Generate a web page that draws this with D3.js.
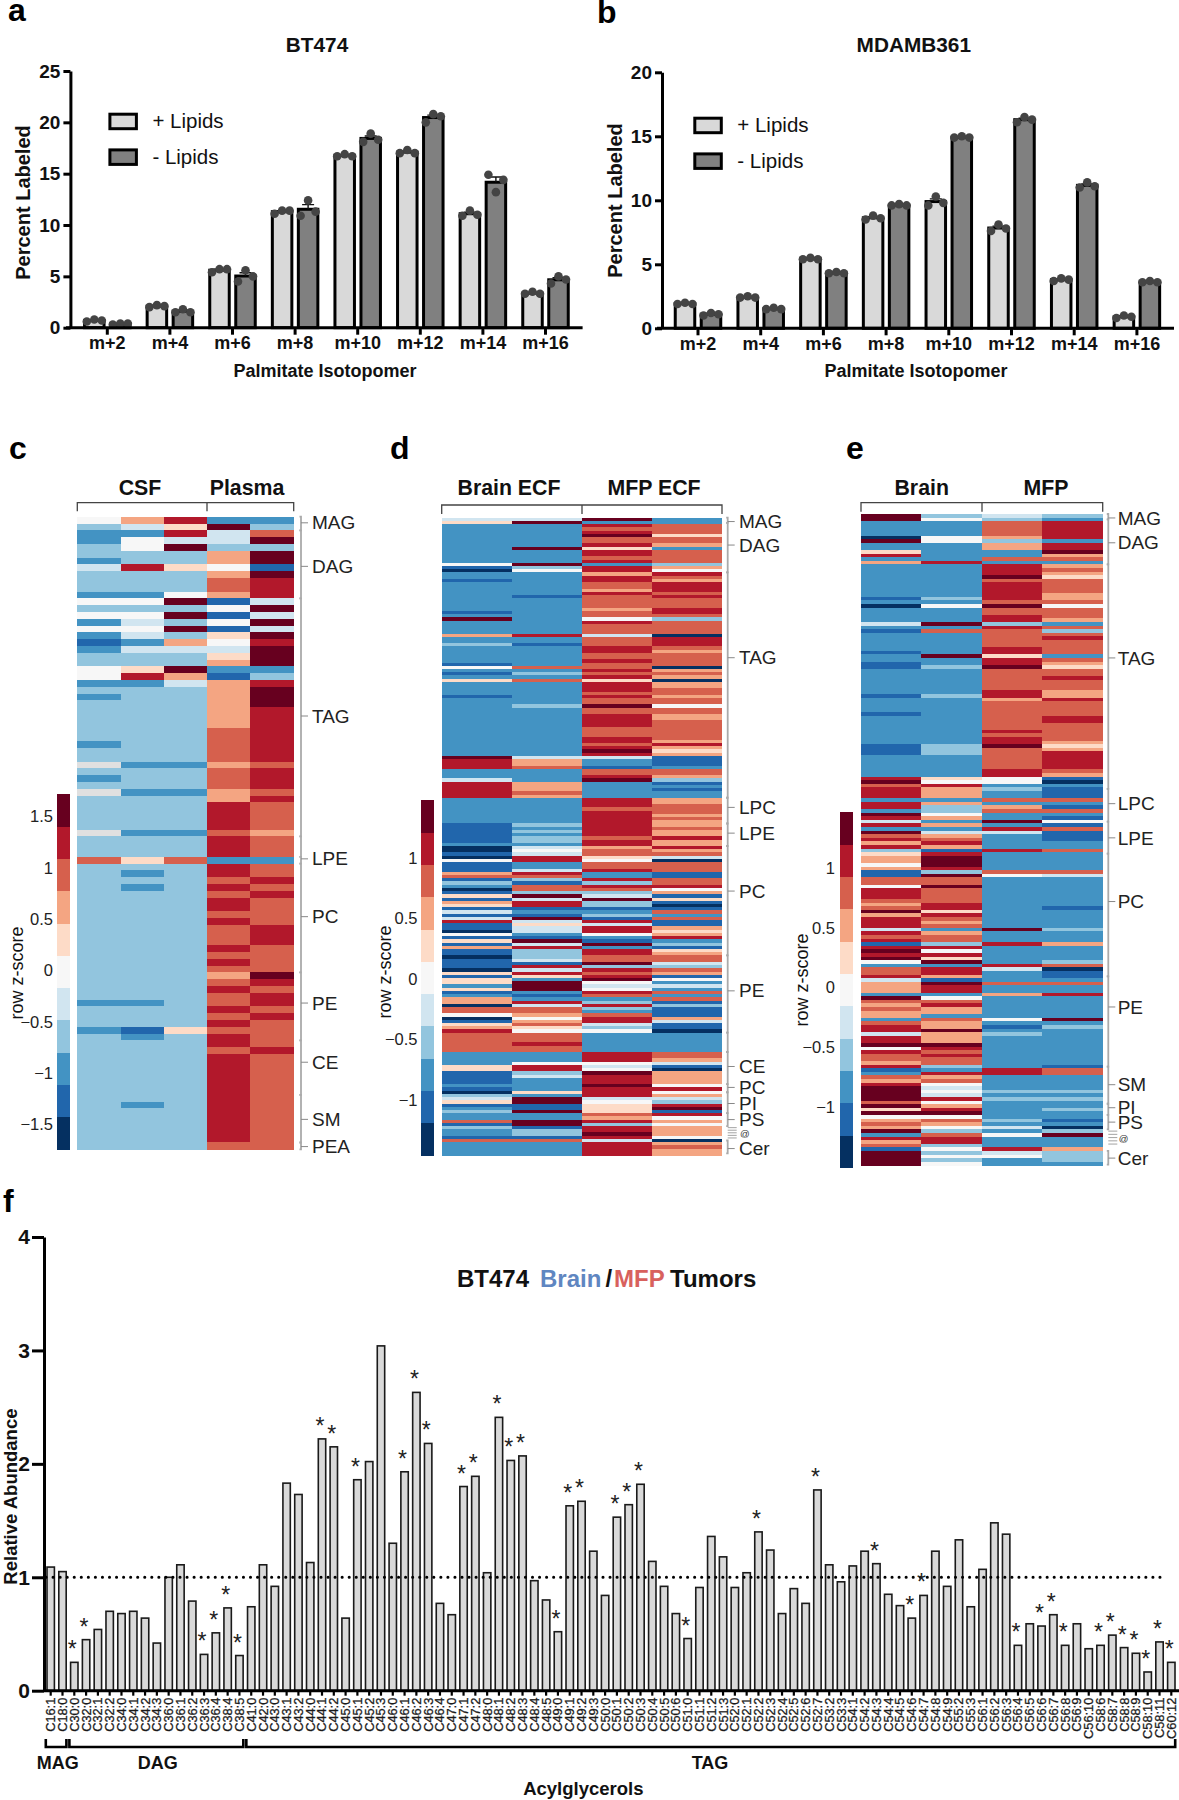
<!DOCTYPE html>
<html>
<head>
<meta charset="utf-8">
<script src="https://cdn.jsdelivr.net/npm/d3@7"></script>
<style>
  body { margin: 0; background: #fff; }
  svg { display: block; }
  text { font-family: "Liberation Sans", Arial, sans-serif; fill: #111; }
</style>
</head>
<body>
<script>
"use strict";

// Panels a, b
var isotopomers = ["m+2", "m+4", "m+6", "m+8", "m+10", "m+12", "m+14", "m+16"];
var plusA = [[0.6, 0.8, 0.7], [2.0, 2.2, 2.1], [5.4, 5.7, 5.7], [11.1, 11.4, 11.4], [16.7, 16.9, 16.7], [17.0, 17.3, 17.0], [10.9, 11.4, 11.0], [3.3, 3.5, 3.3]];
var minusA = [[0.3, 0.4, 0.4], [1.5, 1.8, 1.5], [4.5, 5.6, 5.0], [10.9, 12.4, 11.3], [18.1, 18.9, 18.3], [20.0, 20.8, 20.6], [14.9, 13.2, 14.4], [4.3, 5.0, 4.7]];
var plusB = [[1.9, 2.0, 1.9], [2.4, 2.5, 2.4], [5.4, 5.5, 5.4], [8.5, 8.8, 8.6], [9.6, 10.3, 9.8], [7.6, 8.1, 7.8], [3.7, 3.9, 3.8], [0.8, 1.0, 0.9]];
var minusB = [[1.0, 1.2, 1.1], [1.5, 1.6, 1.5], [4.3, 4.4, 4.3], [9.6, 9.7, 9.6], [14.9, 15.0, 14.9], [16.1, 16.5, 16.3], [11.0, 11.4, 11.1], [3.6, 3.7, 3.6]];
var ticksA = [0, 5, 10, 15, 20, 25];
var ticksB = [0, 5, 10, 15, 20];

// Heatmaps: z-score level 0 (most negative) to a (most positive), g is the grey cell in panel c
var zLevels = ["0", "1", "2", "3", "4", "5", "6", "7", "8", "9", "a"];
var zColors = ["#053061", "#2166ac", "#4393c3", "#92c5de", "#d1e5f0", "#f7f7f7", "#fddbc7", "#f4a582", "#d6604d", "#b2182b", "#67001f"];

// Panel c, one string per row, one character per sample
var rowsC = ["57922", "346a3", "22948", "2544a", "35a33", "3337a", "2337a", "49651", "3337a", "33389", "33389", "22579",
  "55a14", "3335a", "55a14", "2435a", "55a14", "2436a", "12759", "2444a", "3336a", "3337a", "56a22", "59713", "22479",
  "3337a", "2337a", "3337a", "33379", "33379", "33379", "33389", "33389", "23389", "33389", "33389", "g2278", "33389",
  "23389", "33389", "g2278", "33379", "33398", "33398", "33398", "33398", "g2287", "33398", "33398", "33398", "86822",
  "33398", "32398", "33389", "32398", "33389", "33398", "33398", "33388", "33398", "33389", "33389", "33389", "33398",
  "33388", "33398", "33388", "3337a", "33389", "33398", "33389", "22389", "33398", "33389", "33398", "21688", "32398",
  "33398", "33389", "33398", "33398", "33398", "33398", "33398", "33398", "33398", "32398", "33398", "33398", "33398",
  "33398", "33398", "33388"];

// Panels d, e, one string per sample, runs written as level*count from the top row down
var brainEcf1 = "4 6 2*12 5 1 0 2*2 1 2*9 1 2 a 2*4 7 2*2 3 2*5 1 5 2 1 2 6 2*4 1 2*18 a 9*3 2*3 4 9*5 " +
  "2*8 1*6 2 0*2 1 0 5 1*3 7 8 1 3 2 0 1 6 1 7 6 1 4 1 4 9 1 1 0 5 1 6 1 7 1 1 0 1*3 0 6 1 6*2 2 6 1 2 7*2 0 8*2 5 0 1 6 7 9 8*6 2*4 6*2 1*4 2 1 0 3 4 6 1 2 3 2*2 8 1 3 2*2 1 8 2*4";
var brainEcf2 = "4 a 2*7 a 2*4 a 3 5 2*7 1 2*11 9 2*2 1 2*6 8 2 3 2 8 2*7 3 2*15 4 7*2 8 2*4 7*3 8 7 " +
  "2*8 3 2 3 2 3*2 2 4 5 4 9*2 2*2 4 9 8 3 1 8*2 3 a 4 9*2 1 2 1 a 4 6 4*2 2 1 a 4 9 3*3 4 1 9 4 9 6 2 a*3 2 1 2 9 4 8*2 7 5 7 8 6 5 8*3 9 8*2 2*3 5 9*2 3 4 2*4 6 2 a*2 1*2 a 2*2 a*2 1 3*2 1 8 2*4";
var mfpEcf1 = "a 2 9 8 9 a 8*2 9 6 9*2 8 9 2 9*2 7 9*2 8*2 7 9 8*4 7 8*2 5 9 8*3 4 8*3 9*2 8*2 9 8*2 9 8 9 6 9*3 8 9 8*2 a 8*2 9*4 8*3 9*2 8 9 a 9 4 2*2 1 8*2 9 a 2*5 " +
  "9*3 8 9*8 8 9*2 7 8*2 6 5 8*2 9 2*2 9 3 9 8 3 4 a 3*2 1 2 3 1 9 4 9*2 5 2 1 a 2 9*2 8*2 a 3 9 8 9 a 5 4 5 9 8 2 3 9 3 2 8 9*2 4 3 5 2*6 9*3 5 4 5 a 9*3 a 9*3 4 5 6*3 8 7 9 3 9*2 a 9 4 9*4";
var mfpEcf2 = "2*2 8*3 6 8*2 7 2 8*4 3 7 5 9 8 7 9*3 8 9 8*3 9*2 8 3 8*4 0 9*3 8 7 8*4 0 7 8 7 0 7*2 8*2 7 8*2 5 8*2 7*2 8*6 7 9 7 6 7 1*3 2 8*2 7 3 1 2 1 2*2 " +
  "7*2 8*3 7 8 7*2 8 7*2 9 7*2 9 7 8 4 0 8*3 1*2 8*2 9 5 7 1 6 1 0 1 8 2 8 1*2 7 6 7 9 2 3 1 6 7 8*2 4 3 8 7 1 5 2 4 2 8 2 8 1 3 1*3 7 4 1*2 0 2*6 8*2 7 4 1 0 7*4 5 9 5 7 4 3 9 a 1 9 5 7 5 7*3 5 0 7 8 7*2";
var brain1 = "a*2 2*4 0 a 2*2 6 9 2 7 2*9 1 2 0 2*4 4 2 1 2*5 1 2*2 1*2 2*7 1 2*4 1 2*8 1*3 2*6 9 a 8 9*3 2 9*2 " +
  "2 a 9 4 9 2 a 8 9 7 9 3 6 7*2 5 7 1*2 8*2 5 9*3 8 7 8 a 7 9*3 4 9 8 9 1 9 a 9 a 5 2 8*2 9 4 7*3 2 a 8 7 8 7*2 2 8 9*2 4 9*2 a 5 9 8*2 7 9 1 2 8 7 9 a*4 8 a 6 a 5 7 8 7 a 2 9 7 8 1 a*4";
var brain2 = "3 5 2*4 5*2 2*5 9 2*9 3 2 5 2*4 a 2 8 2*6 a 2*2 3 2*7 3 2*13 3*3 2*6 6 5 9 7*3 2 " +
  "7 3*2 5 7 2 7 2 4 7 8 9 7 1 9 a*3 9 3 a 8*2 a 8*4 9*2 6 9 8 7 8 2 7 8*2 3 9 5 9 6 a 2 9*2 7 1 a 9*2 2 5 8 9 7*2 2 8 7*2 a 7*3 a 9 8 9 8*2 3 2 9 7 8 5 4 5 4 9 5 7 9 a 5 8 7 5 3 8 9*2 3 5 3 5 3 5";
var mfp1 = "4 3 8*4 7 3 7*2 2*2 8 2 9*3 a 8 9*5 8 a 8*2 9*2 3 9 8*5 9*2 6 9*2 a 8*6 9*2 7 8*8 9 8 9*2 a 8*6 9*2 5*2 2 3 2*2 8 " +
  "2 7 8 2*2 a 2 9 4 2*4 9 2*5 8 5 2*14 a 2*3 9 2*5 9 4 2*3 8 2*2 7 2*6 5 2 1 2 3 2*9 9*2 2*4 3 2 3 2*5 3 2 4 2 5 2*3 9 4 5 2*2";
var mfp2 = "3 2 9*5 2 9*2 a 7 8 2 7 8 7 6 8*4 7*2 8 5 8*3 7 2 8 3 8 9 8*4 2 8 7 6 8*2 9 8*3 7*2 9 8*4 9*2 8*5 7 6 7 9*5 8 7 1 0 2 1*3 8 " +
  "2 1 8 2 1 5 1 8 1*3 2*2 8 2*5 8 4 2*8 1 2*5 3 2*3 7 2*4 3 8 0 1*2 2 8 2*2 9 2*6 a 2 3 2*10 1 8*2 2*4 3 2 3 2*2 3 2*2 1 2 0 3 a 2*3 7 3*3 2";

// Lipid class labels beside the heatmaps, with the row each one points at
var tagNamesC = ["MAG", "DAG", "TAG", "LPE", "PC", "PE", "CE", "SM", "PEA"];
var tagRowsC = [0.9, 7.3, 29.3, 50.3, 58.8, 71.5, 80.2, 88.6, 92.6];
var tagSpansC = [[0, 2], [2, 12], [12, 47], [47, 50], [50, 51], [51, 67], [67, 77], [77, 85], [85, 92], [92, 93]];
var tagNamesD = ["MAG", "DAG", "TAG", "LPC", "LPE", "PC", "PE", "CE", "PC", "PI", "PS", "Cer"];
var tagRowsD = [1.2, 8.5, 43.5, 90, 98, 116, 147, 170.5, 177, 182, 187, 196];
var tagSpansD = [[0, 1.6], [1.6, 17], [17, 87], [87, 95], [95, 102], [102, 136], [136, 160], [160, 166], [166, 176], [176, 178.5], [178.5, 185], [185, 189], [193.5, 197.5]];
var lipidRowsD = [189.5, 190.3, 191.1, 191.9, 192.7];
var tagNamesE = ["MAG", "DAG", "TAG", "LPC", "LPE", "PC", "PE", "SM", "PI", "PS", "Cer"];
var tagRowsE = [1.1, 8, 40, 80.5, 90, 107.7, 137, 158.6, 165, 169, 179];
var tagSpansE = [[0, 1.5], [1.5, 14], [14, 76.4], [76.4, 85.5], [85.5, 94.4], [94.4, 128.5], [128.5, 153.6], [153.6, 163.9], [163.9, 167], [167, 171], [177, 180.8]];
var lipidRowsE = [171.5, 172.4, 173.3, 174.2, 175.1];

// Panel f
var species = ["C16:1", "C18:0", "C30:0", "C32:0", "C32:1", "C32:2", "C34:0", "C34:1", "C34:2", "C34:3", "C36:0", "C36:1", "C36:2", "C36:3", "C36:4", "C38:4", "C38:5",
  "C41:0", "C42:0", "C43:0", "C43:1", "C43:2", "C44:0", "C44:1", "C44:2", "C45:0", "C45:1", "C45:2", "C45:3", "C46:0", "C46:1", "C46:2", "C46:3", "C46:4", "C47:0", "C47:1", "C47:2",
  "C48:0", "C48:1", "C48:2", "C48:3", "C48:4", "C48:5", "C49:0", "C49:1", "C49:2", "C49:3", "C50:0", "C50:1", "C50:2", "C50:3", "C50:4", "C50:5", "C50:6", "C51:0", "C51:1", "C51:2", "C51:3",
  "C52:0", "C52:1", "C52:2", "C52:3", "C52:4", "C52:5", "C52:6", "C52:7", "C53:2", "C53:3", "C54:1", "C54:2", "C54:3", "C54:4", "C54:5", "C54:6", "C54:7", "C54:8", "C54:9", "C55:2", "C55:3",
  "C56:1", "C56:2", "C56:3", "C56:4", "C56:5", "C56:6", "C56:7", "C56:8", "C56:9", "C56:10", "C58:6", "C58:7", "C58:8", "C58:9", "C58:10", "C58:11", "C60:12"];
var abundance = [1.09, 1.05, 0.25, 0.45, 0.54, 0.70, 0.68, 0.70, 0.64, 0.42, 1.0, 1.11, 0.79, 0.32, 0.51, 0.73, 0.31,
  0.74, 1.11, 0.92, 1.83, 1.73, 1.13, 2.22, 2.15, 0.64, 1.86, 2.02, 3.04, 1.30, 1.93, 2.63, 2.18, 0.77, 0.67, 1.80, 1.89,
  1.04, 2.41, 2.03, 2.07, 0.97, 0.80, 0.52, 1.63, 1.67, 1.23, 0.84, 1.53, 1.64, 1.82, 1.14, 0.92, 0.68, 0.46, 0.91, 1.36, 1.18,
  0.91, 1.04, 1.40, 1.24, 0.68, 0.90, 0.77, 1.77, 1.11, 0.96, 1.10, 1.23, 1.12, 0.85, 0.75, 0.64, 0.84, 1.23, 0.92, 1.33, 0.74,
  1.07, 1.48, 1.38, 0.40, 0.59, 0.57, 0.67, 0.40, 0.59, 0.37, 0.40, 0.49, 0.38, 0.33, 0.165, 0.43, 0.25];
var significant = ["C30:0", "C32:0", "C36:3", "C36:4", "C38:4", "C38:5", "C44:1", "C44:2", "C45:1", "C46:1", "C46:2", "C46:3", "C47:1", "C47:2", "C48:1", "C48:2", "C48:3",
  "C49:0", "C49:1", "C49:2", "C50:1", "C50:2", "C50:3", "C51:0", "C52:2", "C52:7", "C54:3", "C54:6", "C54:7", "C56:4", "C56:6", "C56:7", "C56:8", "C58:6", "C58:7", "C58:8", "C58:9", "C58:10", "C58:11", "C60:12"];

var width = 1179;
var height = 1800;
var lightFill = "#d9d9d9";
var darkFill = "#808080";

var svg = d3.select("body").append("svg").attr("width", width).attr("height", height);

function label(x, y, str, size, weight, anchor, color) {
  return svg.append("text").attr("x", x).attr("y", y).attr("dy", "0.35em")
    .attr("text-anchor", anchor || "middle").attr("font-size", size).attr("font-weight", weight || "normal")
    .style("fill", color || "#111").text(str);
}

function rotated(x, y, str, size, weight) {
  return svg.append("text").attr("transform", "translate(" + x + "," + y + ") rotate(-90)")
    .attr("text-anchor", "middle").attr("dy", "0.35em").attr("font-size", size).attr("font-weight", weight || "normal").text(str);
}

function panelLetter(x, y, str) {
  svg.append("text").attr("x", x).attr("y", y).attr("font-size", 32).attr("font-weight", "bold").style("fill", "#000").text(str);
}

// Define bar panels a and b

function barPanel(p) {
  var x = d3.scaleBand().domain(isotopomers).range([p.tick0 - p.step / 2, p.tick0 + p.step * 7.5]);
  var sub = d3.scaleBand().domain(["plus", "minus"]).range([-26, 26]);
  var y = d3.scaleLinear().domain([0, p.ticks[p.ticks.length - 1]]).range([p.y0, p.yTop]);
  var barW = 19.5;

  [["plus", p.plus, lightFill], ["minus", p.minus, darkFill]].forEach(function (s) {
    var g = svg.append("g");
    s[1].forEach(function (vals, i) {
      var cx = x(isotopomers[i]) + x.bandwidth() / 2 + sub(s[0]) + sub.bandwidth() / 2;
      var m = d3.mean(vals);
      var sem = d3.deviation(vals) / Math.sqrt(vals.length);
      g.append("rect").attr("x", cx - barW / 2).attr("y", y(m)).attr("width", barW).attr("height", y(0) - y(m))
        .attr("fill", s[2]).attr("stroke", "#000").attr("stroke-width", 3);
      // error bar
      g.append("path").attr("d", "M" + (cx - 6) + "," + y(m + sem) + "H" + (cx + 6) + "M" + cx + "," + y(m + sem) + "V" + y(m))
        .attr("fill", "none").attr("stroke", "#111").attr("stroke-width", 1.4);
      g.selectAll(null).data(vals).enter().append("circle")
        .attr("cx", function (d, j) { return cx + (j - 1) * 7.5; })
        .attr("cy", function (d) { return y(d); })
        .attr("r", 4.3).attr("fill", "#444");
    });
  });

  var yAxis = d3.axisLeft(y).tickValues(p.ticks).tickSize(7).tickPadding(3).tickSizeOuter(0);
  var gy = svg.append("g").attr("transform", "translate(" + p.yAxisX + ",0)").call(yAxis);
  gy.selectAll("path,line").attr("stroke", "#000").attr("stroke-width", 3);
  gy.selectAll("text").attr("font-size", 19).attr("font-weight", "bold").style("fill", "#111").attr("font-family", null);

  var xAxis = d3.axisBottom(x).tickSize(7).tickPadding(2).tickSizeOuter(0);
  var gx = svg.append("g").attr("transform", "translate(0," + p.y0 + ")").call(xAxis);
  gx.select(".domain").attr("d", "M" + p.xStart + ",0H" + p.xEnd);
  gx.selectAll("path,line").attr("stroke", "#000").attr("stroke-width", 3);
  gx.selectAll("text").attr("font-size", 18).attr("font-weight", "bold").style("fill", "#111").attr("font-family", null);

  label(p.titleX, 44.7, p.title, 20.8, "bold");
  label(p.xTitleX, 371, "Palmitate Isotopomer", 18, "bold");
  rotated(p.yTitleX, p.yTitleY, "Percent Labeled", 20, "bold");

  [["+ Lipids", lightFill, p.legendY], ["- Lipids", darkFill, p.legendY + 35.7]].forEach(function (l) {
    svg.append("rect").attr("x", p.legendX).attr("y", l[2]).attr("width", 26.5).attr("height", 14.5)
      .attr("fill", l[1]).attr("stroke", "#000").attr("stroke-width", 3);
    label(p.legendX + 42.5, l[2] + 6.5, l[0], 20.5, "normal", "start");
  });
}

barPanel({ title: "BT474", plus: plusA, minus: minusA, ticks: ticksA, tick0: 107.3, step: 62.6, y0: 327.7, yTop: 71, yAxisX: 70.4, xStart: 66, xEnd: 582.6, titleX: 317, xTitleX: 325, yTitleX: 23, yTitleY: 202.5, legendX: 109.9, legendY: 114.2 });
barPanel({ title: "MDAMB361", plus: plusB, minus: minusB, ticks: ticksB, tick0: 698, step: 62.7, y0: 328.3, yTop: 72.3, yAxisX: 662, xStart: 657, xEnd: 1174, titleX: 913.8, xTitleX: 916, yTitleX: 615, yTitleY: 200.5, legendX: 694.8, legendY: 118.2 });

// Define heatmap panels c, d and e

function expandRuns(str) {
  var out = [];
  str.trim().split(/\s+/).forEach(function (t) {
    var p = t.split("*");
    for (var i = 0; i < (+p[1] || 1); i++) out.push(p[0]);
  });
  return out;
}

var zColor = d3.scaleOrdinal().domain(zLevels.concat(["g"])).range(zColors.concat(["#e0e0e0"]));

function heatPanel(p) {
  var nRows = p.columns[0].length;
  var x = d3.scaleBand().domain(d3.range(p.columns.length)).range([p.x0, p.x1]);
  var y = d3.scaleBand().domain(d3.range(nRows)).range([p.y0, p.y1]);
  var rowPos = d3.scaleLinear().domain([0, nRows]).range([p.y0, p.y1]);

  var g = svg.append("g").attr("shape-rendering", "crispEdges");
  p.columns.forEach(function (col, c) {
    g.selectAll(null).data(col).enter().append("rect")
      .attr("x", x(c)).attr("width", x.bandwidth())
      .attr("y", function (d, i) { return y(i); })
      .attr("height", y.bandwidth() + 0.6)
      .attr("fill", function (d) { return zColor(d); });
  });

  // Sample group brackets
  var tickBottom = p.bracketY + p.bracketH;
  svg.append("path").attr("fill", "none").attr("stroke", "#444").attr("stroke-width", 1.3)
    .attr("d", "M" + p.x0 + "," + tickBottom + "V" + p.bracketY + "H" + p.x1 + "V" + tickBottom + "M" + p.xMid + "," + p.bracketY + "V" + tickBottom);
  p.groups.forEach(function (gr) { label(gr[1], p.groupY, gr[0], 21.3, "bold"); });

  // Colour key
  var key = d3.scaleBand().domain(zLevels.slice().reverse()).range([p.keyTop, p.keyBottom]);
  svg.append("g").attr("shape-rendering", "crispEdges").selectAll("rect").data(zLevels).enter().append("rect")
    .attr("x", p.keyX).attr("width", p.keyW)
    .attr("y", function (d) { return key(d); }).attr("height", key.bandwidth() + 0.5)
    .attr("fill", function (d) { return zColor(d); });
  var keyScale = d3.scaleLinear().domain(p.keyDomain).range([p.keyBottom, p.keyTop]);
  var keyAxis = d3.axisLeft(keyScale).tickValues(p.keyTicks).tickSize(0).tickPadding(0)
    .tickFormat(function (d) { return String(d).replace("-", "\u2212"); });
  var ga = svg.append("g").attr("transform", "translate(" + p.keyLabelX + ",0)").call(keyAxis);
  ga.select(".domain").remove();
  ga.selectAll("text").attr("font-size", 16.5).attr("font-family", null).style("fill", "#222");
  rotated(p.keyTitleX, p.keyTitleY, "row z-score", 18);

  // Lipid class labels
  var grey = "#aaa";
  p.spans.forEach(function (s) {
    svg.append("path").attr("fill", "none").attr("stroke", grey).attr("stroke-width", 1.8)
      .attr("d", "M" + (p.lineX - 1.5) + "," + rowPos(s[0]) + "H" + p.lineX + "V" + rowPos(s[1]) + "H" + (p.lineX - 1.5));
  });
  p.names.forEach(function (name, i) {
    var yy = rowPos(p.rows[i]);
    svg.append("line").attr("x1", p.lineX).attr("x2", p.lineX + 7).attr("y1", yy).attr("y2", yy).attr("stroke", "#888").attr("stroke-width", 1);
    label(p.labelX, yy, name, 19, "normal", "start", "#222");
  });
  if (p.lipidRows) {
    p.lipidRows.forEach(function (r) {
      svg.append("line").attr("x1", p.lineX).attr("x2", p.lineX + 9).attr("y1", rowPos(r)).attr("y2", rowPos(r)).attr("stroke", "#999").attr("stroke-width", 0.9);
    });
    label(p.labelX + 1, rowPos(p.lipidRows[2]) + 1, "@", 9.5, "normal", "start", "#333");
  }
}

heatPanel({
  columns: d3.range(5).map(function (c) { return rowsC.map(function (r) { return r[c]; }); }),
  x0: 77.3, x1: 293.7, xMid: 207, y0: 516.7, y1: 1149.3, bracketY: 502.7, bracketH: 8.5, groupY: 488,
  groups: [["CSF", 140], ["Plasma", 247]],
  keyX: 57, keyW: 13, keyTop: 794, keyBottom: 1149, keyDomain: [-1.74, 1.72], keyTicks: [-1.5, -1, -0.5, 0, 0.5, 1, 1.5], keyLabelX: 53, keyTitleX: 17, keyTitleY: 973,
  lineX: 301, labelX: 312, names: tagNamesC, rows: tagRowsC, spans: tagSpansC
});

heatPanel({
  columns: [brainEcf1, brainEcf2, mfpEcf1, mfpEcf2].map(expandRuns),
  x0: 441.7, x1: 722, xMid: 582, y0: 517.7, y1: 1155, bracketY: 505, bracketH: 9, groupY: 487.7,
  groups: [["Brain ECF", 509], ["MFP ECF", 654]],
  keyX: 421.3, keyW: 12.4, keyTop: 800, keyBottom: 1155, keyDomain: [-1.455, 1.48], keyTicks: [-1, -0.5, 0, 0.5, 1], keyLabelX: 417.5, keyTitleX: 385, keyTitleY: 972,
  lineX: 727.7, labelX: 739, names: tagNamesD, rows: tagRowsD, spans: tagSpansD, lipidRows: lipidRowsD
});

heatPanel({
  columns: [brain1, brain2, mfp1, mfp2].map(expandRuns),
  x0: 861, x1: 1102.7, xMid: 982, y0: 514, y1: 1165.3, bracketY: 502.7, bracketH: 9, groupY: 488,
  groups: [["Brain", 921.7], ["MFP", 1046]],
  keyX: 840.3, keyW: 13, keyTop: 812, keyBottom: 1167.3, keyDomain: [-1.505, 1.47], keyTicks: [-1, -0.5, 0, 0.5, 1], keyLabelX: 835, keyTitleX: 802, keyTitleY: 980,
  lineX: 1108.3, labelX: 1117.7, names: tagNamesE, rows: tagRowsE, spans: tagSpansE, lipidRows: lipidRowsE
});

// Define panel f

var xF = d3.scaleBand().domain(species).range([50.7 - 5.9, 1171.3 + 5.9]);
var yF = d3.scaleLinear().domain([0, 4]).range([1690.7, 1237]);
var fBarW = 7.4;

svg.append("g").selectAll("rect").data(species).enter().append("rect")
  .attr("x", function (d) { return xF(d) + xF.bandwidth() / 2 - fBarW / 2; })
  .attr("y", function (d, i) { return yF(abundance[i]); })
  .attr("width", fBarW)
  .attr("height", function (d, i) { return yF(0) - yF(abundance[i]); })
  .attr("fill", lightFill).attr("stroke", "#1a1a1a").attr("stroke-width", 1.6);

svg.append("line").attr("x1", 46).attr("x2", 1165).attr("y1", yF(1)).attr("y2", yF(1))
  .attr("stroke", "#000").attr("stroke-width", 3).attr("stroke-linecap", "round").attr("stroke-dasharray", "0.1 6.95");

svg.append("g").selectAll("text").data(significant).enter().append("text")
  .attr("x", function (d) { return xF(d) + xF.bandwidth() / 2 - 2; })
  .attr("y", function (d) { return yF(abundance[species.indexOf(d)]) - 5; })
  .attr("text-anchor", "middle").attr("font-size", 23).style("fill", "#222").text("*");

var yAxisF = d3.axisLeft(yF).tickValues([0, 1, 2, 3, 4]).tickFormat(d3.format("d")).tickSize(12).tickPadding(2).tickSizeOuter(0);
var gyF = svg.append("g").attr("transform", "translate(44,0)").call(yAxisF);
gyF.selectAll("path,line").attr("stroke", "#000").attr("stroke-width", 3);
gyF.selectAll("text").attr("font-size", 21).attr("font-weight", "bold").attr("font-family", null);

var xAxisF = d3.axisBottom(xF).tickSize(5).tickSizeOuter(0);
var gxF = svg.append("g").attr("transform", "translate(0,1690.7)").call(xAxisF);
gxF.select(".domain").attr("d", "M44,0H1179");
gxF.selectAll("path,line").attr("stroke", "#000").attr("stroke-width", 3);
gxF.selectAll("line").attr("stroke-width", 2.2);
gxF.selectAll("text").attr("font-size", 12.8).attr("font-family", null).style("fill", "#1a1a1a")
  .style("stroke", "#1a1a1a").style("stroke-width", 0.3)
  .attr("text-anchor", "end").attr("dy", "0.35em")
  .attr("transform", "translate(0,7) rotate(-90)").attr("x", 0).attr("y", 0);

rotated(10.5, 1496.6, "Relative Abundance", 18.5, "bold");

// Class brackets under the species labels
[["MAG", "C16:1", "C18:0", 57.8], ["DAG", "C30:0", "C38:5", 157.7], ["TAG", "C41:0", "C60:12", 710]].forEach(function (c) {
  var a = xF(c[1]) + 1;
  var b = xF(c[2]) + xF.bandwidth() - 2;
  svg.append("path").attr("fill", "none").attr("stroke", "#000").attr("stroke-width", 2.6)
    .attr("d", "M" + a + ",1739V1747H" + b + "V1739");
  label(c[3], 1763, c[0], 18, "bold");
});
label(583.3, 1789, "Acylglycerols", 18.5, "bold");

// Title with the coloured tumour sites
label(457, 1278.5, "BT474", 24, "bold", "start");
label(540, 1278.5, "Brain", 24, "bold", "start", "#5f86c1");
label(605.5, 1278.5, "/", 24, "bold", "start");
label(614, 1278.5, "MFP", 24, "bold", "start", "#d8615d");
label(670, 1278.5, "Tumors", 24, "bold", "start");

panelLetter(8, 21, "a");
panelLetter(597, 23, "b");
panelLetter(9, 459, "c");
panelLetter(390, 459, "d");
panelLetter(846, 459, "e");
panelLetter(3, 1212, "f");
</script>
</body>
</html>
